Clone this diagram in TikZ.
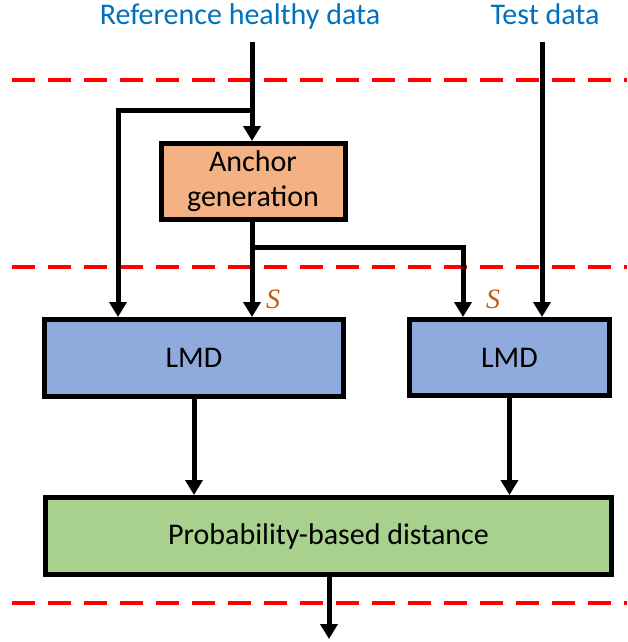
\documentclass[tikz,border=0pt]{standalone}
\usepackage{fontspec}
\setmainfont{Carlito}
\newfontfamily\setfont{Liberation Serif}
\usetikzlibrary{arrows.meta}
\definecolor{inblue}{RGB}{0,112,192}
\definecolor{anchorfill}{RGB}{244,177,131}
\definecolor{lmdfill}{RGB}{143,170,220}
\definecolor{distfill}{RGB}{169,209,142}
\definecolor{slabel}{RGB}{197,90,17}
\tikzset{
  block/.style={draw=black, line width=5pt, rectangle, inner sep=0pt,
    font=\fontsize{30}{35}\selectfont, align=center},
  flow/.style={line width=5pt, line join=miter,
    -{Triangle[width=17pt,length=15pt]}},
  stage/.style={red, line width=4.5pt, dash pattern=on 23pt off 13pt},
  inlabel/.style={text=inblue, font=\fontsize{30}{35}\selectfont, anchor=base, inner sep=0pt},
  setlabel/.style={text=slabel, font=\setfont\itshape\fontsize{28}{30}\selectfont, inner sep=0pt}
}
\begin{document}
\begin{tikzpicture}[x=1pt, y=-1pt]
\useasboundingbox (0,0) rectangle (627,642);

% stage separators
\draw[stage] (12,80) -- (627,80);
\draw[stage] (12,267) -- (627,267);
\draw[stage] (12,603) -- (627,603);

% inputs
\node[inlabel] (ref) at (240,25) {Reference healthy data};
\node[inlabel] (test) at (545,25) {Test data};
\coordinate (refin) at (252,42);
\coordinate (testin) at (542,42);

% processing blocks
\node[block, fill=anchorfill, minimum width=184pt, minimum height=76pt]
  (anch) at (253,181.5) {Anchor\\generation};
\node[block, fill=lmdfill, minimum width=299pt, minimum height=77pt]
  (lmdA) at (194,358) {LMD};
\node[block, fill=lmdfill, minimum width=200pt, minimum height=76pt]
  (lmdB) at (509.5,357.5) {LMD};
\node[block, fill=distfill, minimum width=566pt, minimum height=77pt]
  (dist) at (328.5,536) {Probability-based distance};
\coordinate (out) at (329,639);

% branch points
\coordinate (refsplit) at (252,110);
\coordinate (anchsplit) at (252,247);

% connectors
\draw[flow] (refin) -- (refin |- anch.north);
\draw[flow] (refsplit) -| (lmdA.north -| 118,0);
\draw[flow] (anchsplit |- anch.south) -- (anchsplit |- lmdA.north);
\draw[flow] (anchsplit) -| (lmdB.north -| 463,0);
\draw[flow] (testin) -- (testin |- lmdB.north);
\draw[flow] (lmdA.south) -- (lmdA.south |- dist.north);
\draw[flow] (lmdB.south) -- (lmdB.south |- dist.north);
\draw[flow] (dist.south -| out) -- (out);

% anchor set labels
\node[setlabel] (sA) at (273,299) {S};
\node[setlabel] (sB) at (493,299) {S};
\end{tikzpicture}
\end{document}
